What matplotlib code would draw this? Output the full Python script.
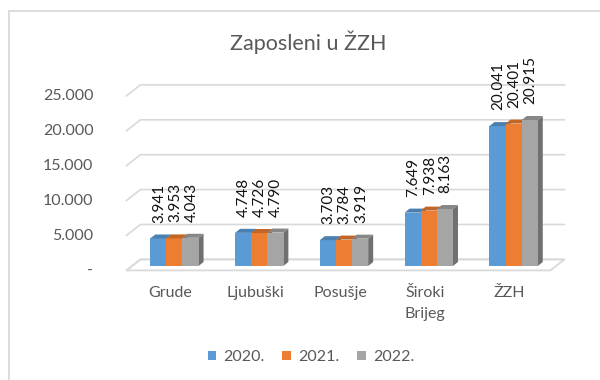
import matplotlib
matplotlib.use("Agg")
import matplotlib.pyplot as plt
from matplotlib.patches import Polygon, Rectangle, Patch
from matplotlib.lines import Line2D
import numpy as np

# --- data -------------------------------------------------------------
categories = ["Grude", "Ljubuški", "Posušje", "Široki\nBrijeg", "ŽZH"]
years = ["2020.", "2021.", "2022."]
v2020 = [3941, 4748, 3703, 7649, 20041]
v2021 = [3953, 4726, 3784, 7938, 20401]
v2022 = [4043, 4790, 3919, 8163, 20915]
yticks = [0, 5000, 10000, 15000, 20000, 25000]
title = "Zaposleni u ŽZH"

# --- style ------------------------------------------------------------
colors = ["#5B9BD5", "#ED7D31", "#A5A5A5"]
text_grey = "#595959"
grid_grey = "#D9D9D9"
plt.rcParams["font.family"] = ["Lato", "DejaVu Sans"]

# pseudo-3D depth offsets (pixels, image convention: +y is down)
FRONT = (-5.6, 4.4)      # front edge of floor / side wall, relative to bar plane
BACK = (8.4, -6.6)       # back wall, relative to bar plane
BAR_DEPTH = (5.0, -4.0)  # depth of each column

fig = plt.figure(figsize=(6, 3.8), dpi=100)
ax = fig.add_axes([132 / 600, 114 / 380, 424 / 600, 174.5 / 380])
ax.set_xlim(-0.5, 4.5)
ax.set_ylim(0, 25000)
ax.set_axis_off()


def at(x, y, d=(0.0, 0.0)):
    """Data point shifted by a pixel offset, returned in data coordinates."""
    px, py = ax.transData.transform((x, y))
    return ax.transData.inverted().transform((px + d[0], py - d[1]))


def fmt(v):
    return "-" if v == 0 else f"{v:,}".replace(",", ".")


def darker(c, f):
    rgb = np.array(matplotlib.colors.to_rgb(c))
    return tuple(rgb * f)


x0, x1 = ax.get_xlim()

# floor
floor = [at(x0, 0, FRONT), at(x1, 0, FRONT), at(x1, 0, BACK), at(x0, 0, BACK)]
ax.add_patch(Polygon(floor, closed=True, facecolor="white", edgecolor=grid_grey,
                     lw=1.3, zorder=0.8, clip_on=False))

# gridlines on side wall and back wall, tick labels at front edge
for t in yticks:
    pts = np.array([at(x0, t, FRONT), at(x0, t, BACK), at(x1, t, BACK)])
    ax.add_line(Line2D(pts[:, 0], pts[:, 1], color=grid_grey, lw=1.2,
                       zorder=1, clip_on=False))
    lx, ly = at(x0, t, (FRONT[0] - 33, FRONT[1]))
    ax.text(lx, ly, fmt(t), ha="right", va="center", fontsize=11.5,
            color=text_grey, clip_on=False)

# columns
series = [v2020, v2021, v2022]
n = len(series)
width = 0.19
xs = np.arange(len(categories))
for k, (vals, col) in enumerate(zip(series, colors)):
    xc = xs + (k - (n - 1) / 2) * width
    z = 3 + k
    ax.bar(xc, vals, width=width, color=col, edgecolor="none", zorder=z)
    for xi, v in zip(xc, vals):
        l, r = xi - width / 2, xi + width / 2
        top = [at(l, v), at(r, v), at(r, v, BAR_DEPTH), at(l, v, BAR_DEPTH)]
        side = [at(r, 0), at(r, v), at(r, v, BAR_DEPTH), at(r, 0, BAR_DEPTH)]
        ax.add_patch(Polygon(top, closed=True, facecolor=darker(col, 0.82),
                             edgecolor="none", zorder=z, clip_on=False))
        ax.add_patch(Polygon(side, closed=True, facecolor=darker(col, 0.68),
                             edgecolor="none", zorder=z - 0.5, clip_on=False))
        ax.annotate(fmt(v), xy=(xi, v), xytext=(0.6, 11.5),
                    textcoords="offset points", rotation=90, ha="center",
                    va="bottom", fontsize=11, color="#111111",
                    annotation_clip=False, zorder=10)

# category labels along the front edge, one line at a time
for xi, name in zip(xs, categories):
    for j, line in enumerate(name.split("\n")):
        ax.annotate(line, xy=(xi, 0),
                    xytext=(-4 * 0.72, -(31 + 21 * j) * 0.72),
                    textcoords="offset points", ha="center", va="baseline",
                    fontsize=11.5, color=text_grey, annotation_clip=False)

fig.text(308 / 600, 1 - 42 / 380, title, ha="center", va="center",
         fontsize=15.5, color=text_grey)

handles = [Patch(facecolor=c, edgecolor="none", label=y) for c, y in zip(colors, years)]
fig.legend(handles=handles, loc="center", bbox_to_anchor=(311 / 600, 1 - 357 / 380),
           ncol=3, frameon=False, fontsize=11.5, handlelength=0.55,
           handleheight=0.55, handletextpad=0.45, columnspacing=1.1,
           labelcolor=text_grey)

# chart area border
fig.add_artist(Rectangle((8.5 / 600, -0.5), 2.0, 1.5 - 10.5 / 380,
                         transform=fig.transFigure, fill=False,
                         edgecolor=grid_grey, lw=1.3))

fig.savefig("out.png", dpi=100)
